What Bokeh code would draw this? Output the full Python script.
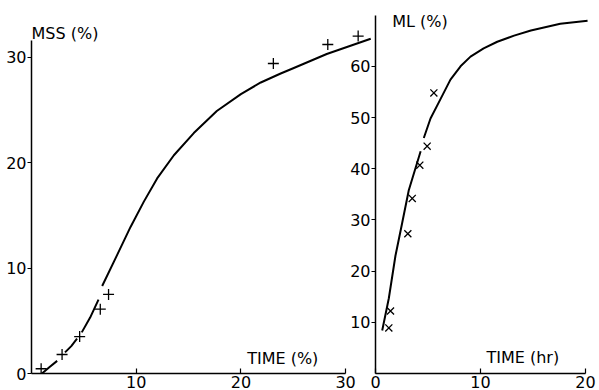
from bokeh.plotting import figure
from bokeh.layouts import row
from bokeh.models import FixedTicker, Range1d, Label
from bokeh.embed import file_html
from bokeh.resources import INLINE

NAN = float("nan")

# ---- Left panel data: MSS (%) vs TIME (%) ----
mss_time = [0.92, 2.92, 4.6, 6.57, 7.36, 23.1, 28.3, 31.2]
mss_val = [0.45, 1.8, 3.5, 6.1, 7.5, 29.4, 31.2, 32.0]
mss_curve_t = [1.0, 1.7, 2.45, NAN, 3.2, 3.8, 4.35, NAN, 4.8, 5.6, 6.4,
               NAN, 6.75, 8.16, 9.46, 10.73, 12.0, 13.6, 15.5, 17.7, 20.0, 21.9,
               23.8, 25.0, 28.2, 32.4]
mss_curve_v = [0.0, 0.6, 1.2, NAN, 2.0, 2.6, 3.3, NAN, 3.9, 5.3, 7.0,
               NAN, 8.3, 11.2, 13.9, 16.3, 18.5, 20.7, 22.8, 24.9, 26.5, 27.6,
               28.45, 28.95, 30.3, 31.75]
left_xticks = [10, 20, 30]
left_yticks = [0, 10, 20, 30]

# ---- Right panel data: ML (%) vs TIME (hr) ----
ml_time = [1.27, 1.43, 3.08, 3.5, 4.22, 4.92, 5.56]
ml_val = [8.9, 12.2, 27.3, 34.2, 40.7, 44.4, 54.8]
ml_curve_t = [0.64, 1.27, 1.9, 2.54, 3.17, 4.3, NAN, 4.6, 5.24, 6.19, 7.14, 8.1,
              9.05, 10.3, 11.6, 13.2, 14.8, 17.6, 20.2]
ml_curve_v = [8.4, 14.7, 23.0, 29.4, 35.8, 43.4, NAN, 46.0, 49.8, 53.6, 57.4, 60.0,
              61.9, 63.5, 64.8, 66.0, 67.0, 68.3, 68.9]
right_xticks = [0, 10, 20]
right_yticks = [10, 20, 30, 40, 50, 60]

FONT = "DejaVu Sans"
FS = "16px"


def style_axes(p):
    for ax in (p.xaxis[0], p.yaxis[0]):
        ax.axis_line_width = 1.5
        ax.axis_line_color = "black"
        ax.major_tick_line_color = "black"
        ax.major_tick_line_width = 1.2
        ax.minor_tick_line_color = None
        ax.major_label_text_font = FONT
        ax.major_label_text_font_size = FS
        ax.major_label_text_color = "black"
    p.xaxis.major_tick_in = 5
    p.xaxis.major_tick_out = 0
    p.xaxis.major_label_standoff = 2
    p.yaxis.major_tick_in = 0
    p.yaxis.major_tick_out = 4
    p.yaxis.major_label_standoff = 1
    p.grid.visible = False
    p.outline_line_color = None
    p.background_fill_alpha = 0
    p.border_fill_alpha = 0


# ---------- left figure ----------
p1 = figure(width=376, height=390, output_backend="svg", toolbar_location=None,
            x_range=Range1d(0, 32.57), y_range=Range1d(0, 34.9),
            min_border_left=31, min_border_right=4, min_border_top=5, min_border_bottom=16)
style_axes(p1)
p1.xaxis.ticker = FixedTicker(ticks=left_xticks)
p1.yaxis.ticker = FixedTicker(ticks=left_yticks)
p1.xaxis.bounds = (0, 30)
p1.yaxis.bounds = (0, 31.6)

p1.line(mss_curve_t, mss_curve_v, line_color="black", line_width=2, line_join="round")
p1.scatter(mss_time, mss_val, marker="cross", size=11, line_color="black", line_width=1.3)

p1.add_layout(Label(x=0, y=32.2, text="MSS (%)", text_font=FONT, text_font_size=FS,
                    text_baseline="middle", text_align="left", text_color="black"))
p1.add_layout(Label(x=20.6, y=1.4, text="TIME (%)", text_font=FONT, text_font_size=FS,
                    text_baseline="middle", text_align="left", text_color="black"))

# ---------- right figure ----------
p2 = figure(width=254, height=386, output_backend="svg", toolbar_location=None,
            x_range=Range1d(0, 20.67), y_range=Range1d(0, 71.1),
            min_border_left=30, min_border_right=7, min_border_top=1, min_border_bottom=16)
style_axes(p2)
p2.xaxis.ticker = FixedTicker(ticks=right_xticks)
p2.yaxis.ticker = FixedTicker(ticks=right_yticks)
p2.xaxis.bounds = (0, 20)
p2.yaxis.bounds = (0, 70)
p2.margin = (4, 0, 0, -31)

p2.line(ml_curve_t, ml_curve_v, line_color="black", line_width=2, line_join="round")
p2.scatter(ml_time, ml_val, marker="x", size=10, line_color="black", line_width=1.3)

p2.add_layout(Label(x=1.6, y=68.8, text="ML (%)", text_font=FONT, text_font_size=FS,
                    text_baseline="middle", text_align="left", text_color="black"))
p2.add_layout(Label(x=10.57, y=3.2, text="TIME (hr)", text_font=FONT, text_font_size=FS,
                    text_baseline="middle", text_align="left", text_color="black"))

layout = row(p1, p2, spacing=0)

open("out.html", "w").write(file_html(layout, INLINE))
